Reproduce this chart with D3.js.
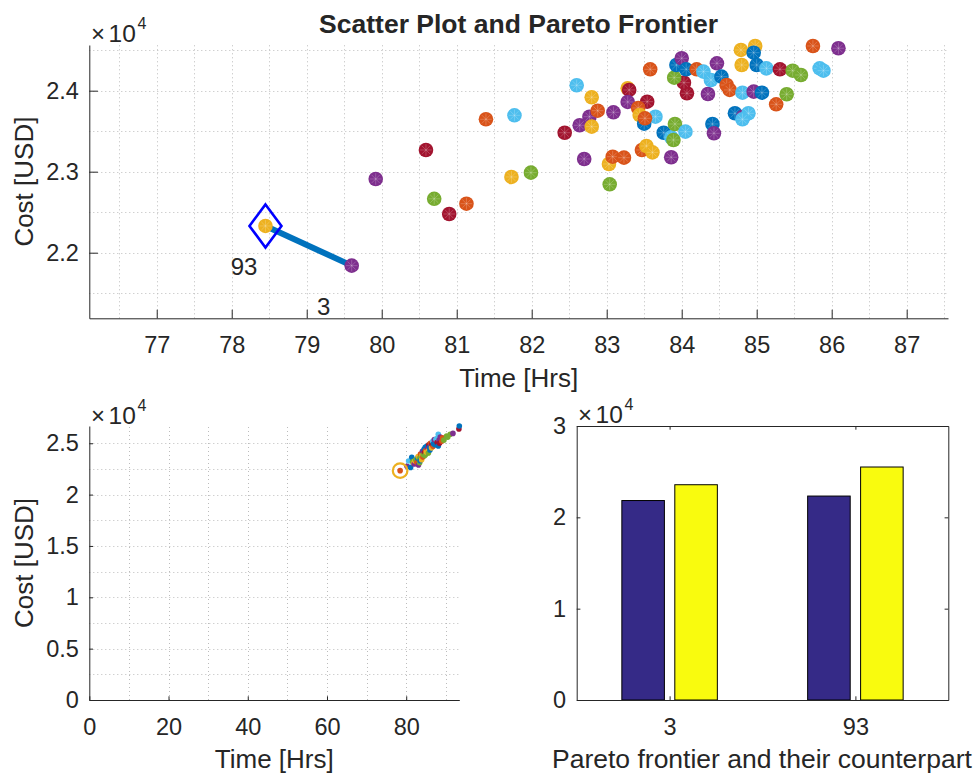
<!DOCTYPE html>
<html><head><meta charset="utf-8">
<script src="https://cdn.jsdelivr.net/npm/d3@7"></script>
<style>
body{margin:0;background:#fff}
text{font-family:"Liberation Sans",Arial,Helvetica,sans-serif;fill:#262626}
</style></head><body>
<svg id="c" width="975" height="773"></svg>
<script>
// ---------------- DATA ----------------
const palette = {B:"#0072BD",O:"#D95319",Y:"#EDB120",P:"#7E2F8E",G:"#77AC30",L:"#4DBEEE",R:"#A2142F"};

const scatterTime = [79.92,80.59,80.70,81.13,80.90,81.39,81.77,81.73,81.99,83.04,83.03,83.08,83.23,82.70,82.44,82.64,82.77,82.80,82.88,82.80,82.60,83.09,83.28,83.30,83.28,83.54,83.58,83.42,83.44,83.65,83.50,83.51,83.47,83.53,83.61,83.86,83.76,83.86,83.91,83.89,84.05,84.41,84.43,84.07,84.03,83.90,83.93,84.00,84.06,84.20,84.35,84.47,84.29,84.39,84.53,84.60,84.64,84.81,84.96,85.07,84.71,84.82,84.89,84.81,85.26,85.40,84.79,84.98,84.96,84.80,85.00,85.13,85.31,85.48,85.59,85.75,86.09,85.84,85.89];
const scatterCost = [22910,23268,22665,22605,22478,23647,23696,22935,22988,22844,23095,23185,23173,23157,23481,23573,23679,23556,23753,23919,24067,23733,24030,24009,23861,23864,24264,23786,23700,23679,23593,23659,23268,23317,23239,23178,23481,23425,23589,23391,23494,23589,23474,23968,24099,24161,24317,24400,24264,24264,23959,24338,24235,24132,24173,24070,24009,23975,23988,23975,23721,23679,23721,23647,23832,23956,24503,24552,24469,24317,24317,24276,24264,24247,24194,24552,24524,24276,24247];
const scatterColor = ["P","R","G","O","R","O","L","Y","G","G","Y","O","O","P","R","P","P","Y","O","Y","L","P","Y","R","P","R","O","O","Y","L","B","O","O","Y","Y","P","B","L","G","G","L","B","P","R","R","G","B","P","B","O","P","P","L","L","B","O","O","L","P","B","B","P","L","L","O","G","Y","Y","B","Y","B","L","R","G","G","O","P","L","L"];

const paretoIds = ["93","3"];
const paretoTime = [78.45,79.60];
const paretoCost = [22330,21840];
const paretoColor = ["Y","P"];

const overviewTime = [78.46,80.2,80.6,81.1,81.4,81.6,81.9,82.0,82.2,82.4,82.7,82.9,83.1,83.0,83.3,83.4,83.5,83.6,83.8,83.9,84.0,84.1,84.2,84.3,84.5,84.6,84.7,84.8,84.9,85.0,85.1,85.2,85.4,85.5,85.6,85.7,85.9,86.0,86.1,86.3,86.4,86.5,86.7,86.8,86.9,87.1,87.3,87.5,87.8,87.9,88.1,88.1,88.3,88.4,88.6,89.0,89.2,89.5,90.2,90.5,91.1,91.8,93.3,93.4];
const overviewCost = [22330,22750,23270,22650,23630,23200,23050,22980,23300,23400,23150,23550,22880,23700,23500,23100,23300,23950,23650,23400,23850,24215,23650,23900,24400,24100,23800,24600,24300,23950,24150,24700,24500,24250,24050,24850,24600,24350,25000,24750,24550,24930,25200,24700,24950,25350,24850,25380,25100,25500,24730,25870,25300,24990,25600,25200,25540,25300,25700,25600,25870,25960,26390,26680];
const overviewColor = ["O","P","L","B","B","G","Y","P","Y","G","O","B","P","Y","G","G","B","O","G","Y","Y","P","O","G","B","R","G","B","O","G","Y","B","P","Y","G","R","B","B","O","P","Y","R","L","O","B","P","B","L","R","L","B","L","P","R","P","O","O","G","G","G","G","P","R","B"];

const barCategories = ["3","93"];
const barFrontier = [21840,22330];
const barCounterpart = [23570,25510];
const barColors = ["#352A87","#F9FB0E"];

const topXTicks = [77,78,79,80,81,82,83,84,85,86,87];
const topYTicks = [22000,23000,24000];
const ovXTicks = [0,20,40,60,80];
const ovYTicks = [0,5000,10000,15000,20000,25000];
const barYTicks = [0,10000,20000,30000];

// ---------------- DRAW ----------------
const svg = d3.select("#c");
svg.append("rect").attr("width",975).attr("height",773).attr("fill","#fff");
const AX = "#262626", GRID = "#bcbcbc";

function gridLines(g, xs, ys, x, y){
  const [x0,x1] = x.range(), [y0,y1] = y.range();
  g.selectAll(null).data(xs).join("line")
    .attr("x1",d=>Math.round(x(d))+0.5).attr("x2",d=>Math.round(x(d))+0.5)
    .attr("y1",y0).attr("y2",y1)
    .attr("stroke",GRID).attr("stroke-dasharray","1,3").attr("stroke-width",1);
  g.selectAll(null).data(ys).join("line")
    .attr("y1",d=>Math.round(y(d))+0.5).attr("y2",d=>Math.round(y(d))+0.5)
    .attr("x1",x0).attr("x2",x1)
    .attr("stroke",GRID).attr("stroke-dasharray","1,3").attr("stroke-width",1);
}
function styleAxis(g, fs){
  g.select(".domain").attr("stroke",AX).attr("stroke-width",1);
  g.selectAll(".tick line").attr("stroke",AX).attr("stroke-width",1);
  g.selectAll(".tick text").attr("fill",AX).style("font-size",fs+"px")
    .style("font-family",'"Liberation Sans",Arial,Helvetica,sans-serif');
}
function exponent(x0, base){
  svg.append("text").attr("x",x0).attr("y",base).style("font-size","24px").text("\u00d7");
  svg.append("text").attr("x",x0+17.5).attr("y",base).style("font-size","24.5px").text("10");
  svg.append("text").attr("x",x0+46.5).attr("y",base-12.3).style("font-size","16px").text("4");
}
function dot(g, cx, cy, r, col, star){
  g.append("circle").attr("cx",cx).attr("cy",cy).attr("r",r).attr("fill",col);
  if(star){
    for(let a=0;a<180;a+=45){
      const t=a*Math.PI/180, dx=Math.cos(t)*r*0.8, dy=Math.sin(t)*r*0.8;
      g.append("line").attr("x1",cx-dx).attr("y1",cy-dy).attr("x2",cx+dx).attr("y2",cy+dy)
       .attr("stroke","rgba(255,255,255,0.3)").attr("stroke-width",0.7);
    }
  }
}

// ===== Top panel =====
const xT = d3.scaleLinear().domain([76.101,87.551]).range([89.3,948]);
const yT = d3.scaleLinear().domain([21190,24564]).range([318.3,45]);
const gT = svg.append("g");
gridLines(gT, d3.range(76.5,87.6,0.5), d3.range(21500,24600,500), xT, yT);

const gxT = svg.append("g").attr("transform",`translate(0,${yT.range()[0]})`)
  .call(d3.axisBottom(xT).tickValues(topXTicks).tickSizeInner(-8.6).tickSizeOuter(0));
styleAxis(gxT,23.5);
gxT.selectAll(".tick text").attr("y",35).attr("dy",null);
const gyT = svg.append("g").attr("transform",`translate(${xT.range()[0]},0)`)
  .call(d3.axisLeft(yT).tickValues(topYTicks).tickSizeInner(-8.6).tickSizeOuter(0).tickFormat(d=>(d/1e4).toFixed(1)));
styleAxis(gyT,23.5);
gyT.selectAll(".tick text").attr("x",-10.5);

// pareto line
svg.append("path").datum(paretoTime.map((t,i)=>[t,paretoCost[i]]))
  .attr("d",d3.line().x(d=>xT(d[0])).y(d=>yT(d[1])))
  .attr("stroke","#0072BD").attr("stroke-width",6).attr("fill","none");

const gP = svg.append("g");
scatterTime.forEach((t,i)=>dot(gP, xT(t), yT(scatterCost[i]), 7.3, palette[scatterColor[i]], true));
paretoTime.forEach((t,i)=>dot(gP, xT(t), yT(paretoCost[i]), 7.3, palette[paretoColor[i]], true));

// diamond on first pareto point
{
  const cx=xT(paretoTime[0]), cy=yT(paretoCost[0]);
  svg.append("path").attr("d",`M${cx},${cy-21.5}L${cx+16},${cy}L${cx},${cy+21.5}L${cx-16},${cy}Z`)
    .attr("fill","none").attr("stroke","#0000FF").attr("stroke-width",2.6);
}
// pareto labels
paretoIds.forEach((id,i)=>{
  svg.append("text").attr("x",xT(paretoTime[i]-0.45)-1).attr("y",yT(paretoCost[i]-500))
    .attr("dy","0.35em").style("font-size","24px").attr("fill","#000").text(id);
});

exponent(91,41.7);
svg.append("text").attr("x",(89.3+948)/2).attr("y",33).attr("text-anchor","middle")
  .style("font-size","26.5px").style("font-weight","bold").attr("fill","#000")
  .text("Scatter Plot and Pareto Frontier");
svg.append("text").attr("x",(89.3+948)/2).attr("y",387).attr("text-anchor","middle")
  .style("font-size","26px").text("Time [Hrs]");
svg.append("text").attr("transform","translate(33,181.6) rotate(-90)").attr("text-anchor","middle")
  .style("font-size","26px").text("Cost [USD]");

// ===== Bottom-left overview =====
const xO = d3.scaleLinear().domain([0,93.4]).range([89.3,459.3]);
const yO = d3.scaleLinear().domain([0,26680]).range([700,426]);
const gO = svg.append("g");
gridLines(gO, d3.range(10,93,10), d3.range(2500,26680,2500), xO, yO);
const gxO = svg.append("g").attr("transform","translate(0,700)")
  .call(d3.axisBottom(xO).tickValues(ovXTicks).tickSizeInner(-3.7).tickSizeOuter(0));
styleAxis(gxO,23.5);
gxO.selectAll(".tick text").attr("y",35).attr("dy",null);
const gyO = svg.append("g").attr("transform",`translate(${xO.range()[0]},0)`)
  .call(d3.axisLeft(yO).tickValues(ovYTicks).tickSizeInner(-3.7).tickSizeOuter(0).tickFormat(d=>d/1e4));
styleAxis(gyO,23.5);
gyO.selectAll(".tick text").attr("x",-10.5);
overviewTime.forEach((t,i)=>dot(gO, xO(t), yO(overviewCost[i]), 2.8, palette[overviewColor[i]], false));
svg.append("circle").attr("cx",xO(overviewTime[0])).attr("cy",yO(overviewCost[0])).attr("r",7.3)
  .attr("fill","none").attr("stroke","#EDB120").attr("stroke-width",2.2);
exponent(91,423.5);
svg.append("text").attr("x",(89.3+459.3)/2).attr("y",768).attr("text-anchor","middle")
  .style("font-size","26px").text("Time [Hrs]");
svg.append("text").attr("transform","translate(33,563) rotate(-90)").attr("text-anchor","middle")
  .style("font-size","26px").text("Cost [USD]");

// ===== Bottom-right bars =====
const xB = d3.scaleLinear().domain([0.5,2.5]).range([576.7,948.3]);
const yB = d3.scaleLinear().domain([0,30000]).range([700,426]);
const gB = svg.append("g");
const bw = 0.229, off = 0.1425;
barCategories.forEach((c,i)=>{
  [barFrontier[i], barCounterpart[i]].forEach((v,j)=>{
    const cx = (i+1) + (j===0?-off:off);
    gB.append("rect").attr("x",xB(cx-bw/2)).attr("width",xB(cx+bw/2)-xB(cx-bw/2))
      .attr("y",yB(v)).attr("height",yB(0)-yB(v))
      .attr("fill",barColors[j]).attr("stroke","#000").attr("stroke-width",1);
  });
});
const catTicks=[1,2];
const gxB = svg.append("g").attr("transform","translate(0,700)")
  .call(d3.axisBottom(xB).tickValues(catTicks).tickSizeInner(-3.7).tickSizeOuter(0).tickFormat(d=>barCategories[d-1]));
styleAxis(gxB,23.5);
gxB.selectAll(".tick text").attr("y",35).attr("dy",null);
const gxB2 = svg.append("g").attr("transform","translate(0,426)")
  .call(d3.axisTop(xB).tickValues(catTicks).tickSizeInner(-3.7).tickSizeOuter(0).tickFormat(""));
styleAxis(gxB2,23.5);
const gyB = svg.append("g").attr("transform","translate(576.7,0)")
  .call(d3.axisLeft(yB).tickValues(barYTicks).tickSizeInner(-3.7).tickSizeOuter(0).tickFormat(d=>d/1e4));
styleAxis(gyB,23.5);
gyB.selectAll(".tick text").attr("x",-10.5);
const gyB2 = svg.append("g").attr("transform","translate(948.3,0)")
  .call(d3.axisRight(yB).tickValues(barYTicks).tickSizeInner(-3.7).tickSizeOuter(0).tickFormat(""));
styleAxis(gyB2,23.5);
exponent(578,422.7);
svg.append("text").attr("x",552).attr("y",768)
  .style("font-size","26.5px").text("Pareto frontier and their counterpart");
</script>
</body></html>
